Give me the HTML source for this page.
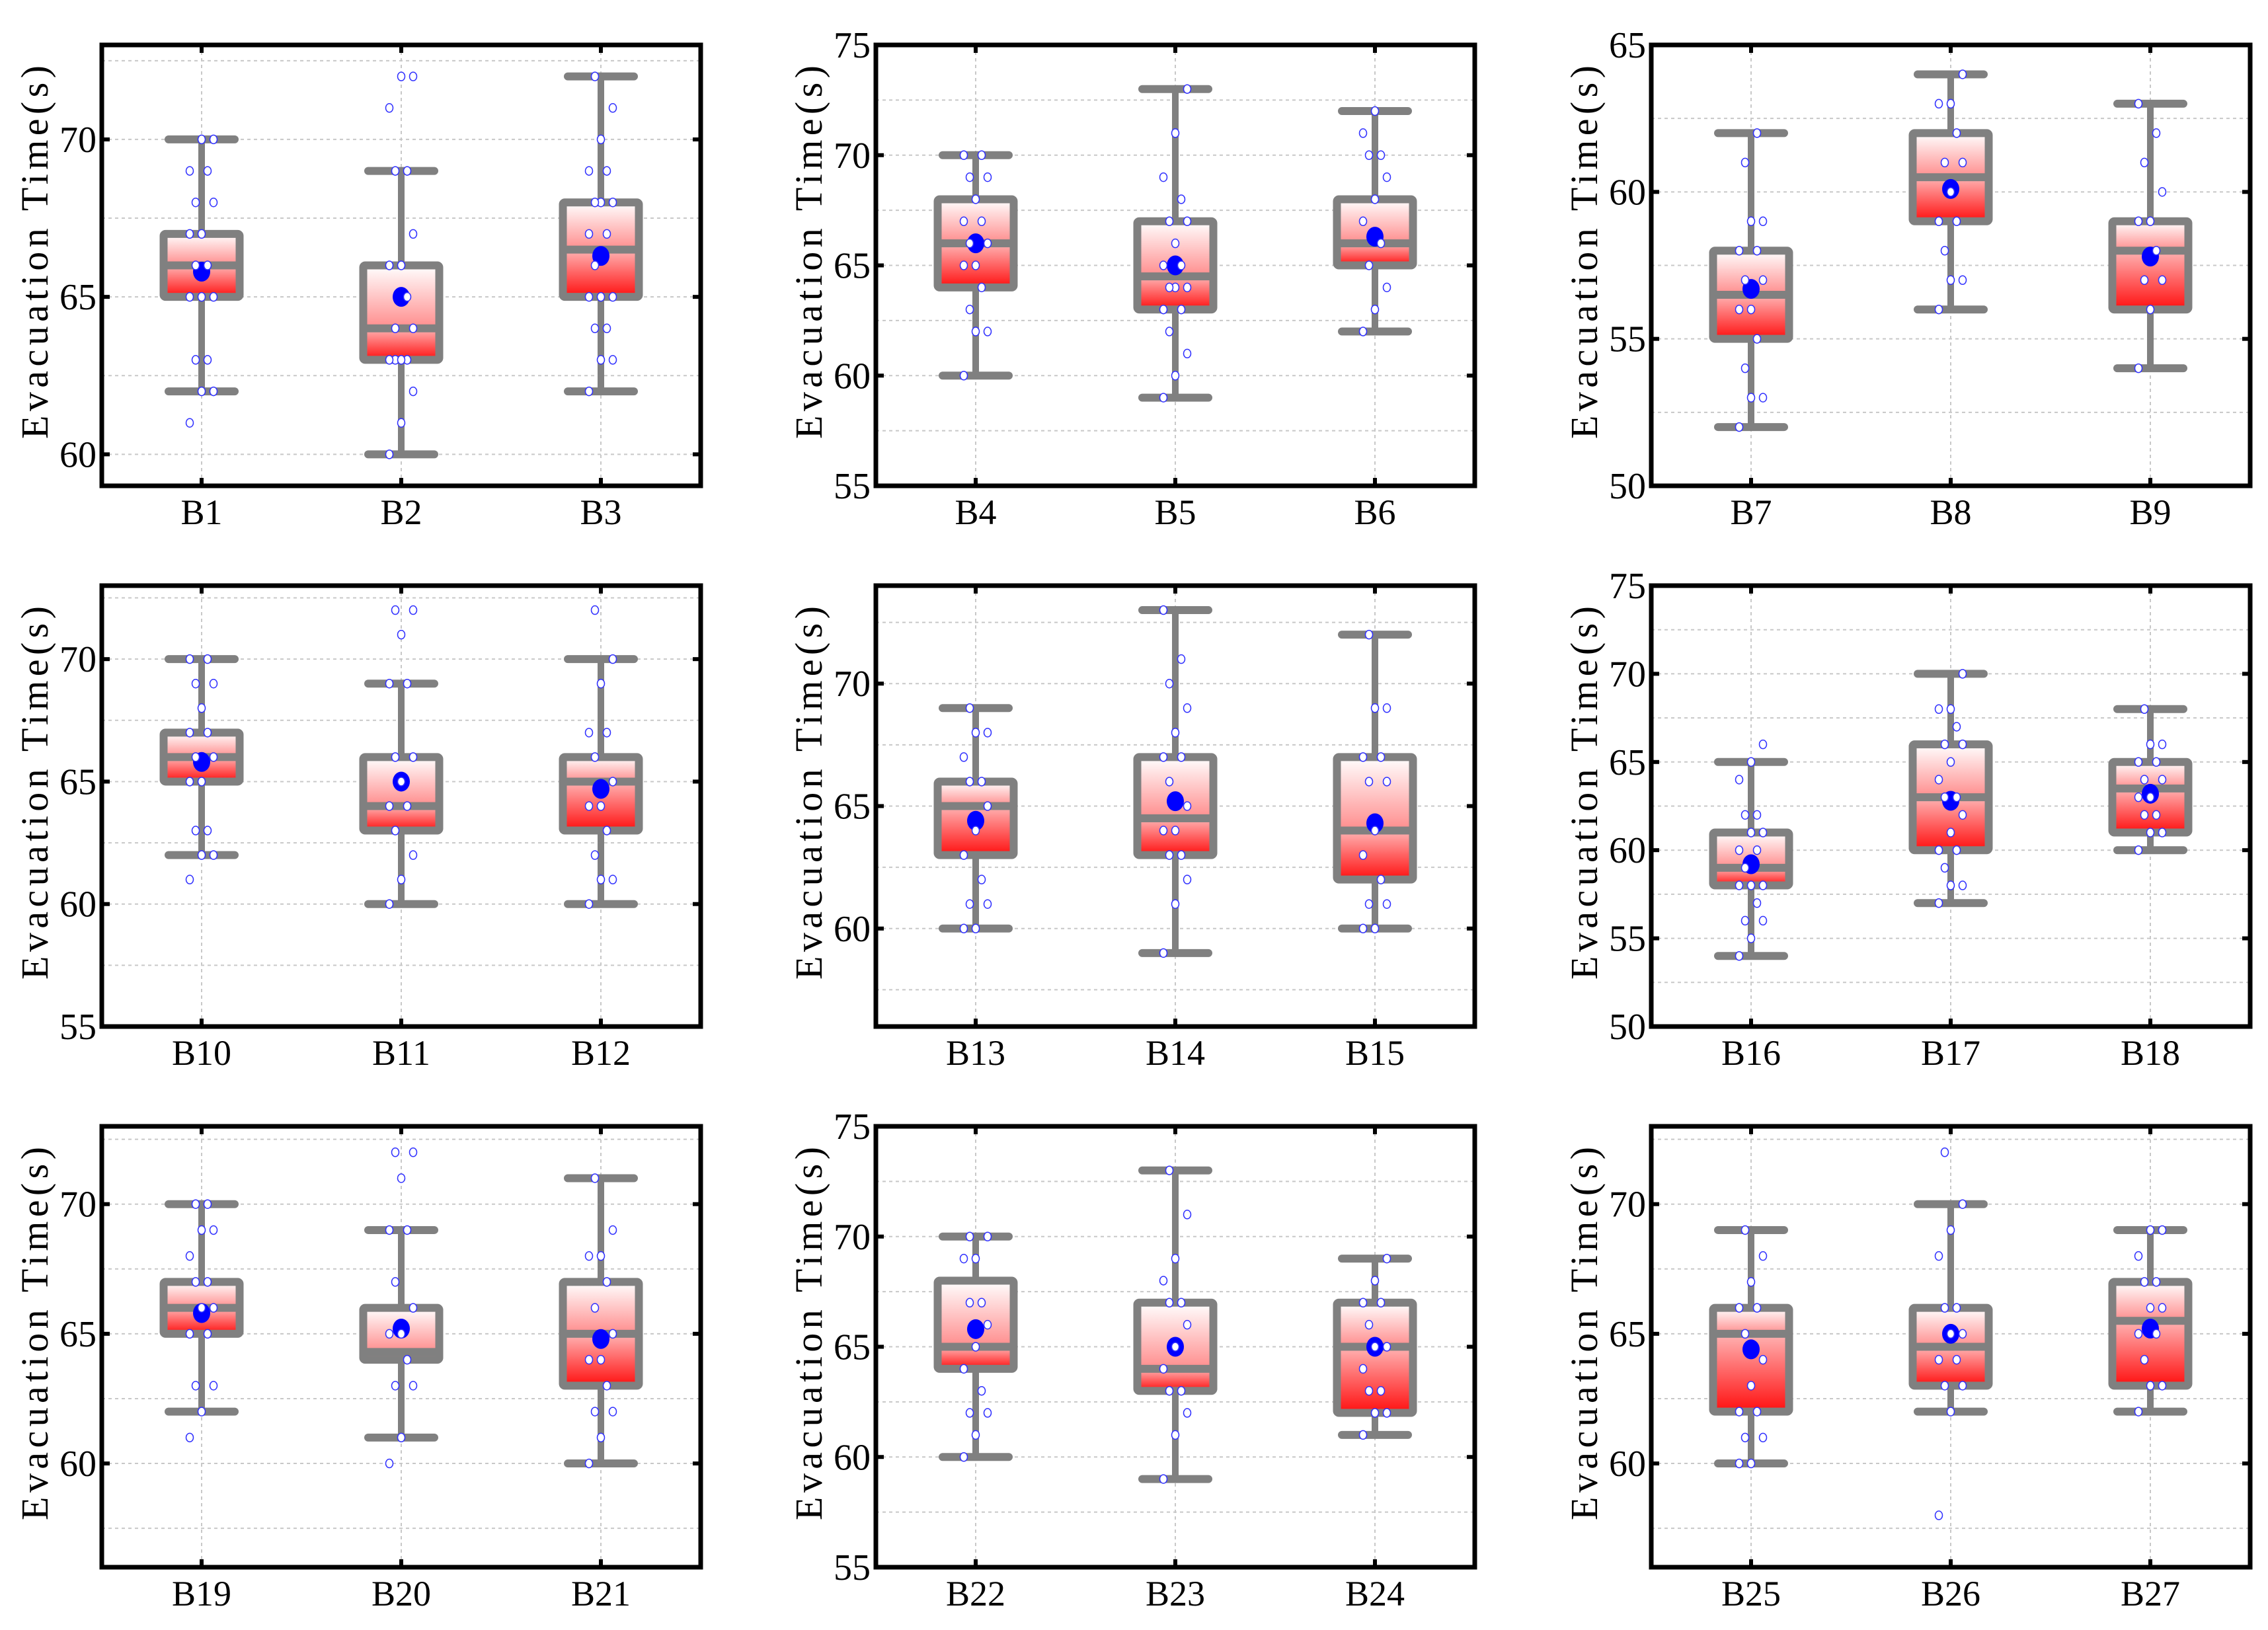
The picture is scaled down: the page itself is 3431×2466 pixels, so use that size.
<!DOCTYPE html>
<html><head><meta charset="utf-8">
<style>html,body{margin:0;padding:0;background:#fff;}svg{display:block;}</style>
</head><body>
<svg id="chart" xmlns="http://www.w3.org/2000/svg" width="3431" height="2466" viewBox="0 0 3431 2466">
<defs>
<linearGradient id="gUp" x1="0" y1="0" x2="0" y2="1"><stop offset="0" stop-color="#ffffff"/><stop offset="1" stop-color="#ff8c8c"/></linearGradient>
<linearGradient id="gLo" x1="0" y1="0" x2="0" y2="1"><stop offset="0" stop-color="#ffb4b4"/><stop offset="1" stop-color="#ff1010"/></linearGradient>
</defs>
</svg>
<script>
const categories = ["B1","B2","B3","B4","B5","B6","B7","B8","B9","B10","B11","B12","B13","B14","B15","B16","B17","B18","B19","B20","B21","B22","B23","B24","B25","B26","B27"];
const minVals = [62,60,62,60,59,62,52,56,54,62,60,60,60,59,60,54,57,60,62,61,60,60,59,61,60,62,62];
const q1Vals = [65,63,65,64,63,65,55,59,56,65,63,63,63,63,62,58,60,61,65,64,63,64,63,62,62,63,63];
const medianVals = [66,64,66.5,66,64.5,66,56.5,60.5,58,66,64,65,65,64.5,64,59,63,63.5,66,64.3,65,65,64,65,65,64.5,65.5];
const q3Vals = [67,66,68,68,67,68,58,62,59,67,66,66,66,67,67,61,66,65,67,66,67,68,67,67,66,66,67];
const maxVals = [70,69,72,70,73,72,62,64,63,70,69,70,69,73,72,65,70,68,70,69,71,70,73,69,69,70,69];
const meanVals = [65.8,65,66.3,66,65,66.3,56.7,60.1,57.8,65.8,65,64.7,64.4,65.2,64.3,59.2,62.8,63.2,65.8,65.2,64.8,65.8,65,65,64.4,65,65.2];
const rawPoints = [
[61,62,62,63,63,65,65,65,66,66,67,67,68,68,69,69,70,70],
[60,61,62,63,63,63,63,64,64,65,66,66,67,69,69,71,72,72],
[62,63,63,64,64,65,65,65,66,67,67,68,68,68,69,69,70,71,72],
[60,62,62,63,64,65,65,66,66,67,67,68,69,69,70,70],
[59,60,61,62,63,63,64,64,64,65,65,66,67,67,68,69,71,73],
[62,63,64,65,66,67,68,69,70,70,71,72],
[52,53,53,54,55,56,56,57,57,58,58,59,59,61,62],
[56,57,57,58,59,59,60,61,61,62,63,63,64],
[54,56,57,57,58,59,59,60,61,62,63],
[61,62,62,63,63,65,65,66,66,67,67,68,69,69,70,70],
[60,61,62,63,64,64,65,66,66,69,69,71,72,72],
[60,61,61,62,63,64,64,65,66,67,67,69,70,72],
[60,60,61,61,62,63,64,65,66,66,67,68,68,69],
[59,61,62,63,63,64,64,65,66,67,67,68,69,70,71,73],
[60,60,61,61,62,63,64,66,66,67,67,69,69,72],
[54,55,56,56,57,58,58,58,59,60,60,61,61,62,62,64,65,66],
[57,58,58,59,60,60,61,62,63,63,64,65,66,66,67,68,68,70],
[60,61,61,62,62,63,63,64,64,65,65,66,66,68],
[61,62,63,63,65,65,66,66,67,67,68,69,69,70,70],
[60,61,63,63,64,65,65,66,67,69,69,71,72,72],
[60,61,62,62,63,64,64,65,66,67,68,68,69,71],
[60,61,62,62,63,64,65,66,67,67,69,69,70,70],
[59,61,62,63,63,64,65,66,67,67,68,69,71,73],
[61,62,62,63,63,64,65,65,66,67,67,68,69],
[60,60,61,61,62,62,63,64,65,66,66,67,68,69],
[58,62,63,63,64,64,65,65,66,66,68,69,70,72],
[62,63,63,64,65,65,66,66,67,67,68,69,69]
];
const panelMin = [59,55,50,55,56,50,56,55,56];
const panelMax = [73,75,65,73,74,75,73,75,73];
const panelTicks = [[60,65,70],[55,60,65,70,75],[50,55,60,65],[55,60,65,70],[60,65,70],[50,55,60,65,70,75],[60,65,70],[55,60,65,70,75],[60,65,70]];

const NS="http://www.w3.org/2000/svg";
const svg=document.getElementById('chart');
function mk(tag,attrs,parent){const e=document.createElementNS(NS,tag);for(const k in attrs)e.setAttribute(k,attrs[k]);(parent||svg).appendChild(e);return e;}
const colX=[154,1325,2498], rowY=[68,886,1704], PW=906, PH=667;
const FONT='"Liberation Serif",serif';

for(let p=0;p<9;p++){
  const fx=colX[p%3], fy=rowY[Math.floor(p/3)];
  const g=mk('g',{});
  
  
  const yS=v=>fy+PH-(v-panelMin[p])/(panelMax[p]-panelMin[p])*PH;
  const xS=i=>fx+PW*(2*i+1)/6;
  for(let v=Math.ceil(panelMin[p]/2.5)*2.5; v<=panelMax[p]; v+=2.5){
    if(v<=panelMin[p]) continue;
    const gl=mk('line',{x1:fx,x2:fx+PW,y1:yS(v),y2:yS(v),stroke:'#c8c8c8','stroke-width':2,'stroke-dasharray':'5,5'},g);
    
    
  }
  for(let i=0;i<3;i++){
    const vl=mk('line',{x1:xS(i),x2:xS(i),y1:fy,y2:fy+PH,stroke:'#c8c8c8','stroke-width':2,'stroke-dasharray':'5,5'},g);
    
    
  }
  for(let i=0;i<3;i++){
    const c=p*3+i, cx=xS(i), bw=115, cap=100;
    const bg=mk('g',{},g);
    
    
    mk('line',{x1:cx,x2:cx,y1:yS(maxVals[c]),y2:yS(q3Vals[c]),stroke:'#808080','stroke-width':10},bg);
    mk('line',{x1:cx,x2:cx,y1:yS(q1Vals[c]),y2:yS(minVals[c]),stroke:'#808080','stroke-width':10},bg);
    mk('line',{x1:cx-cap/2,x2:cx+cap/2,y1:yS(maxVals[c]),y2:yS(maxVals[c]),stroke:'#808080','stroke-width':12,'stroke-linecap':'round'},bg);
    mk('line',{x1:cx-cap/2,x2:cx+cap/2,y1:yS(minVals[c]),y2:yS(minVals[c]),stroke:'#808080','stroke-width':12,'stroke-linecap':'round'},bg);
    const yq3=yS(q3Vals[c]), ym=yS(medianVals[c]), yq1=yS(q1Vals[c]);
    mk('rect',{x:cx-bw/2,y:yq3,width:bw,height:ym-yq3,fill:'url(#gUp)'},bg);
    mk('rect',{x:cx-bw/2,y:ym,width:bw,height:yq1-ym,fill:'url(#gLo)'},bg);
    mk('rect',{x:cx-bw/2,y:yq3,width:bw,height:yq1-yq3,fill:'none',stroke:'#808080','stroke-width':12,rx:3},bg);
    mk('line',{x1:cx-bw/2,x2:cx+bw/2,y1:ym,y2:ym,stroke:'#808080','stroke-width':12},bg);
    const mean=mk('ellipse',{cx:cx,cy:yS(meanVals[c]),rx:13,ry:15,fill:'#0000ff'},bg);
    
    
    rawPoints[c].forEach((v,k)=>{
      const off=(((k*7)%5)-2)*9;
      const pt=mk('ellipse',{cx:cx+off,cy:yS(v),rx:5.5,ry:6.5,fill:'#fff',stroke:'#3030ff','stroke-width':1.5},bg);
      
      
    });
    mk('line',{x1:cx,x2:cx,y1:fy,y2:fy+12,stroke:'#000','stroke-width':6},g);
    mk('line',{x1:cx,x2:cx,y1:fy+PH,y2:fy+PH-12,stroke:'#000','stroke-width':6},g);
    const xl=mk('text',{x:cx,y:fy+PH+58,'text-anchor':'middle','font-family':FONT,'font-size':54,fill:'#000'},g);
    xl.textContent=categories[c];
    
    
  }
  panelTicks[p].forEach(v=>{
    const y=yS(v);
    mk('line',{x1:fx,x2:fx+12,y1:y,y2:y,stroke:'#000','stroke-width':6},g);
    mk('line',{x1:fx+PW,x2:fx+PW-12,y1:y,y2:y,stroke:'#000','stroke-width':6},g);
    const tl=mk('text',{x:fx-8,y:y+19,'text-anchor':'end','font-family':FONT,'font-size':56,fill:'#000'},g);
    tl.textContent=v;
    
    
  });
  const fr=mk('rect',{x:fx,y:fy,width:PW,height:PH,fill:'none',stroke:'#000','stroke-width':7},g);
  
  
  const tx=fx-82, ty=fy+PH/2-20;
  const yt=mk('text',{x:0,y:0,transform:`translate(${tx},${ty}) rotate(-90)`,'text-anchor':'middle','font-family':FONT,'font-size':58,fill:'#000',textLength:565,lengthAdjust:'spacing'},g);
  yt.textContent='Evacuation  Time(s)';
  
  
}
</script>
</body></html>
